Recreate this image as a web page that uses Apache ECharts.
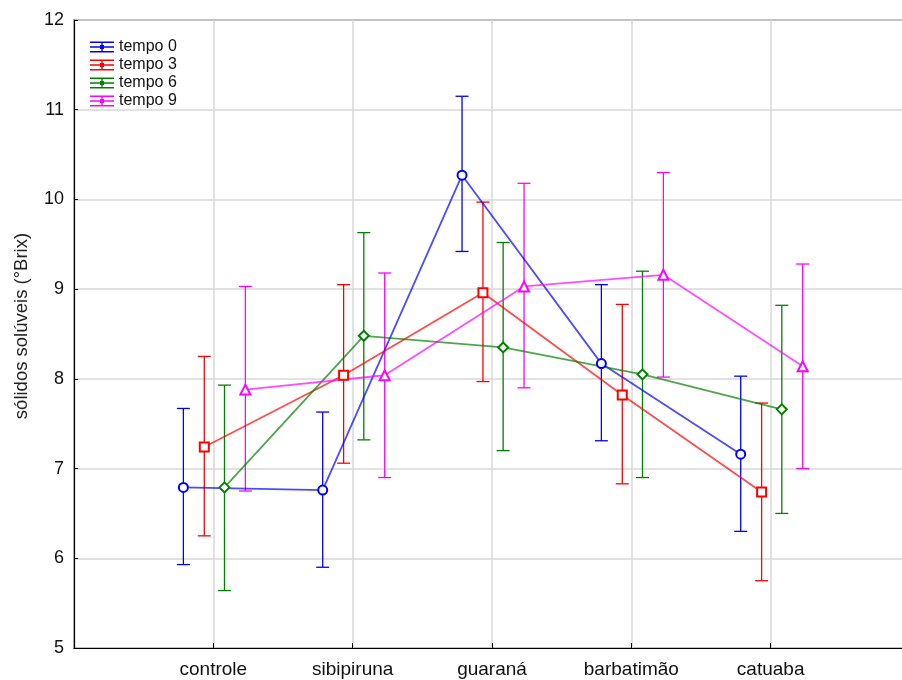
<!DOCTYPE html>
<html>
<head>
<meta charset="utf-8">
<script src="https://cdn.jsdelivr.net/npm/echarts@6/dist/echarts.min.js"></script>
<style>html,body{margin:0;padding:0;background:#fff}#c{width:902px;height:680px}</style>
</head>
<body>
<div id="c"></div>
<script>
const categories = ['controle', 'sibipiruna', 'guaraná', 'barbatimão', 'catuaba'];
const seriesNames = ['tempo 0', 'tempo 3', 'tempo 6', 'tempo 9'];
const yTicks = [5, 6, 7, 8, 9, 10, 11, 12];

const mean0 = [6.79, 6.76, 10.27, 8.17, 7.16];
const low0  = [5.93, 5.90, 9.42, 7.31, 6.30];
const high0 = [7.67, 7.63, 11.15, 9.05, 8.03];

const mean3 = [7.24, 8.04, 8.96, 7.82, 6.74];
const low3  = [6.25, 7.06, 7.97, 6.83, 5.75];
const high3 = [8.25, 9.05, 9.97, 8.83, 7.73];

const mean6 = [6.79, 8.48, 8.35, 8.05, 7.66];
const low6  = [5.64, 7.32, 7.20, 6.90, 6.50];
const high6 = [7.93, 9.63, 9.52, 9.20, 8.82];

const mean9 = [7.88, 8.04, 9.03, 9.16, 8.14];
const low9  = [6.75, 6.90, 7.90, 8.02, 7.00];
const high9 = [9.03, 9.18, 10.18, 10.30, 9.28];

const means = [mean0, mean3, mean6, mean9];
const lows = [low0, low3, low6, low9];
const highs = [high0, high3, high6, high9];
const colors = ['#0000ff', '#ff0000', '#008000', '#ff00ff'];
const symbols = ['emptyCircle', 'emptyRect', 'emptyDiamond', 'emptyTriangle'];
const symbolSizes = [9, 9, 10, 10];
const offsets = [-0.215, -0.065, 0.08, 0.23];

const legendIcon = 'path://M0,0h24v1.4h-24z M0,9.6h24v1.4h-24z M0,4.8h24v1.4h-24z M11.3,0h1.4v11h-1.4z M10,3.5h4v4h-4z';

const series = [];
seriesNames.forEach((name, s) => {
  series.push({
    name: name,
    type: 'custom',
    renderItem: function (params, api) {
      const x = api.value(0);
      const pLo = api.coord([x, api.value(1)]);
      const pHi = api.coord([x, api.value(2)]);
      const w = 6.5;
      const st = { stroke: colors[s], lineWidth: 1.3 };
      return {
        type: 'group',
        children: [
          { type: 'line', shape: { x1: pLo[0], y1: pLo[1], x2: pHi[0], y2: pHi[1] }, style: st },
          { type: 'line', shape: { x1: pLo[0] - w, y1: pLo[1], x2: pLo[0] + w, y2: pLo[1] }, style: st },
          { type: 'line', shape: { x1: pHi[0] - w, y1: pHi[1], x2: pHi[0] + w, y2: pHi[1] }, style: st }
        ]
      };
    },
    data: categories.map((c, i) => [i + 1 + offsets[s], lows[s][i], highs[s][i]]),
    z: 2,
    silent: true
  });
  series.push({
    name: name,
    type: 'line',
    data: categories.map((c, i) => [i + 1 + offsets[s], means[s][i]]),
    symbol: symbols[s],
    symbolSize: symbolSizes[s],
    lineStyle: { color: colors[s], width: 1.8, opacity: 0.7 },
    itemStyle: { color: colors[s], borderWidth: 1.5 },
    z: 3,
    animation: false
  });
});

const chart = echarts.init(document.getElementById('c'));
chart.setOption({
  animation: false,
  backgroundColor: '#fff',
  grid: { left: 74, top: 20, height: 628, width: 836, outerBoundsMode: 'none', containLabel: false, show: true, borderColor: '#000', borderWidth: 1.2, backgroundColor: 'transparent' },
  legend: {
    data: seriesNames.map((n, i) => ({ name: n, icon: legendIcon, itemStyle: { color: colors[i] } })),
    orient: 'vertical',
    left: 85,
    top: 34,
    itemWidth: 24,
    itemHeight: 11,
    itemGap: 2,
    textStyle: { fontFamily: 'Liberation Sans, Arial', fontSize: 16, color: '#111', lineHeight: 16 }
  },
  xAxis: {
    type: 'value',
    min: 0,
    max: 6,
    interval: 1,
    axisLine: { show: true, lineStyle: { color: '#000', width: 1.2 } },
    axisTick: { show: true, inside: true, length: 5, lineStyle: { color: '#000' } },
    splitLine: { show: true, lineStyle: { color: '#d9d9d9', width: 1.5 } },
    axisLabel: {
      margin: 12,
      fontFamily: 'Liberation Sans, Arial',
      fontSize: 19,
      color: '#111',
      formatter: function (v) { return categories[v - 1] || ''; }
    }
  },
  yAxis: {
    type: 'value',
    min: 5,
    max: 12,
    interval: 1,
    name: 'sólidos solúveis (°Brix)',
    nameLocation: 'middle',
    nameGap: 43,
    nameTextStyle: { fontFamily: 'Liberation Sans, Arial', fontSize: 18.5, color: '#222', padding: [0, 0, 0, 16] },
    axisLine: { show: true, lineStyle: { color: '#000', width: 1.2 } },
    axisTick: { show: true, inside: true, length: 4, lineStyle: { color: '#000' } },
    splitLine: { show: true, lineStyle: { color: '#d9d9d9', width: 1.5 } },
    axisLabel: {
      margin: 10,
      fontFamily: 'Liberation Sans, Arial',
      fontSize: 18,
      color: '#111',
      formatter: function (v) { return yTicks.indexOf(v) >= 0 ? String(v) : ''; }
    }
  },
  series: series
});
</script>
</body>
</html>
